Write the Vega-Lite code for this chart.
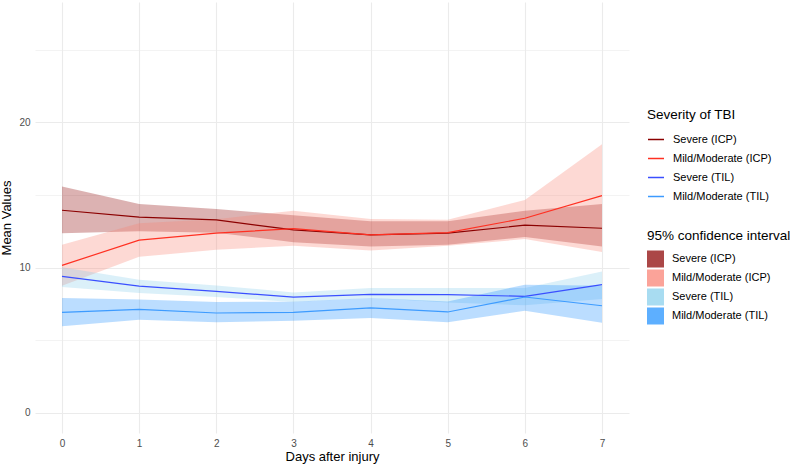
{
  "$schema": "https://vega.github.io/schema/vega-lite/v6.json",
  "autosize": {"type": "none"},
  "padding": {"left": 35, "top": 2, "right": 161, "bottom": 33},
  "width": 594,
  "height": 431,
  "background": "white",
  "config": {
    "view": {"stroke": null},
    "font": "Liberation Sans",
    "axis": {"domain": false, "ticks": false, "labelColor": "#4D4D4D", "labelFontSize": 10, "titleFontSize": 13, "titleFontWeight": "normal", "titleColor": "#000000", "gridColor": "#EBEBEB"},
    "legend": {"titleFontSize": 13.5, "titleFontWeight": "normal", "labelFontSize": 11, "labelColor": "#000000", "titleColor": "#000000"}
  },
  "data": {"values": [
    {"day": 0, "group": "Severe (ICP)", "mean": 13.95, "lo": 12.37, "hi": 15.58},
    {"day": 1, "group": "Severe (ICP)", "mean": 13.47, "lo": 12.5, "hi": 14.38},
    {"day": 2, "group": "Severe (ICP)", "mean": 13.28, "lo": 12.4, "hi": 14.04},
    {"day": 3, "group": "Severe (ICP)", "mean": 12.6, "lo": 11.75, "hi": 13.6},
    {"day": 4, "group": "Severe (ICP)", "mean": 12.25, "lo": 11.45, "hi": 13.2},
    {"day": 5, "group": "Severe (ICP)", "mean": 12.37, "lo": 11.57, "hi": 13.2},
    {"day": 6, "group": "Severe (ICP)", "mean": 12.92, "lo": 12.1, "hi": 13.92},
    {"day": 7, "group": "Severe (ICP)", "mean": 12.71, "lo": 11.45, "hi": 14.38},
    {"day": 0, "group": "Mild/Moderate (ICP)", "mean": 10.15, "lo": 8.75, "hi": 11.57},
    {"day": 1, "group": "Mild/Moderate (ICP)", "mean": 11.89, "lo": 10.74, "hi": 13.06},
    {"day": 2, "group": "Mild/Moderate (ICP)", "mean": 12.37, "lo": 11.22, "hi": 13.33},
    {"day": 3, "group": "Mild/Moderate (ICP)", "mean": 12.69, "lo": 11.5, "hi": 13.92},
    {"day": 4, "group": "Mild/Moderate (ICP)", "mean": 12.25, "lo": 11.18, "hi": 13.35},
    {"day": 5, "group": "Mild/Moderate (ICP)", "mean": 12.41, "lo": 11.5, "hi": 13.3},
    {"day": 6, "group": "Mild/Moderate (ICP)", "mean": 13.4, "lo": 11.96, "hi": 14.66},
    {"day": 7, "group": "Mild/Moderate (ICP)", "mean": 14.96, "lo": 11.07, "hi": 18.49},
    {"day": 0, "group": "Severe (TIL)", "mean": 9.39, "lo": 8.66, "hi": 10.03},
    {"day": 1, "group": "Severe (TIL)", "mean": 8.72, "lo": 8.25, "hi": 9.16},
    {"day": 2, "group": "Severe (TIL)", "mean": 8.36, "lo": 7.97, "hi": 8.77},
    {"day": 3, "group": "Severe (TIL)", "mean": 7.97, "lo": 7.63, "hi": 8.29},
    {"day": 4, "group": "Severe (TIL)", "mean": 8.15, "lo": 7.9, "hi": 8.59},
    {"day": 5, "group": "Severe (TIL)", "mean": 8.13, "lo": 7.6, "hi": 8.59},
    {"day": 6, "group": "Severe (TIL)", "mean": 8.02, "lo": 7.4, "hi": 8.6},
    {"day": 7, "group": "Severe (TIL)", "mean": 8.82, "lo": 7.84, "hi": 9.73},
    {"day": 0, "group": "Mild/Moderate (TIL)", "mean": 6.91, "lo": 5.95, "hi": 7.9},
    {"day": 1, "group": "Mild/Moderate (TIL)", "mean": 7.12, "lo": 6.4, "hi": 7.8},
    {"day": 2, "group": "Mild/Moderate (TIL)", "mean": 6.87, "lo": 6.23, "hi": 7.63},
    {"day": 3, "group": "Mild/Moderate (TIL)", "mean": 6.91, "lo": 6.34, "hi": 7.65},
    {"day": 4, "group": "Mild/Moderate (TIL)", "mean": 7.22, "lo": 6.53, "hi": 7.9},
    {"day": 5, "group": "Mild/Moderate (TIL)", "mean": 6.94, "lo": 6.23, "hi": 7.67},
    {"day": 6, "group": "Mild/Moderate (TIL)", "mean": 7.97, "lo": 7.03, "hi": 8.82},
    {"day": 7, "group": "Mild/Moderate (TIL)", "mean": 7.37, "lo": 6.19, "hi": 8.75}
  ]},
  "encoding": {
    "x": {"field": "day", "type": "quantitative", "title": "Days after injury",
      "scale": {"domain": [-0.35, 7.35], "nice": false, "zero": false},
      "axis": {"values": [0, 0.5, 1, 1.5, 2, 2.5, 3, 3.5, 4, 4.5, 5, 5.5, 6, 6.5, 7],
        "format": "d",
        "labelExpr": "datum.value % 1 === 0 ? datum.label : ''",
        "gridWidth": {"condition": {"test": "datum.value % 1 === 0", "value": 1.1}, "value": 0.6},
        "labelPadding": 5, "titlePadding": 2}}
  },
  "layer": [
    {
      "mark": {"type": "area", "opacity": 0.3},
      "encoding": {
        "y": {"field": "lo", "type": "quantitative", "title": "Mean Values",
          "scale": {"domain": [-1.4, 28.3], "nice": false, "zero": false},
          "axis": {"values": [0, 5, 10, 15, 20, 25],
            "labelExpr": "datum.value % 10 === 0 ? datum.label : ''",
            "gridWidth": {"condition": {"test": "datum.value % 10 === 0", "value": 1.1}, "value": 0.6},
            "labelPadding": 5, "titlePadding": 5}},
        "y2": {"field": "hi"},
        "fill": {"field": "group", "type": "nominal",
          "scale": {"domain": ["Severe (ICP)", "Mild/Moderate (ICP)", "Severe (TIL)", "Mild/Moderate (TIL)"],
            "range": ["#8B0000", "#FA8072", "#87CEEB", "#1E90FF"]},
          "legend": {"title": "95% confidence interval", "orient": "none", "legendX": 612, "legendY": 227,
            "symbolType": "square", "symbolSize": 289, "symbolOpacity": 0.72, "symbolStrokeWidth": 0, "rowPadding": 2, "titlePadding": 8, "labelOffset": 8}}
      }
    },
    {
      "mark": {"type": "line", "strokeWidth": 1.2},
      "encoding": {
        "y": {"field": "mean", "type": "quantitative"},
        "stroke": {"field": "group", "type": "nominal",
          "scale": {"domain": ["Severe (ICP)", "Mild/Moderate (ICP)", "Severe (TIL)", "Mild/Moderate (TIL)"],
            "range": ["#8B0000", "#FF3022", "#3A4FFF", "#3D9BFF"]},
          "legend": {"title": "Severity of TBI", "orient": "none", "legendX": 612, "legendY": 106,
            "symbolType": "stroke", "symbolSize": 256, "symbolStrokeWidth": 1.5, "rowPadding": 5, "titlePadding": 9, "labelOffset": 8}}
      }
    }
  ],
  "resolve": {"scale": {"fill": "independent", "stroke": "independent"}}
}
